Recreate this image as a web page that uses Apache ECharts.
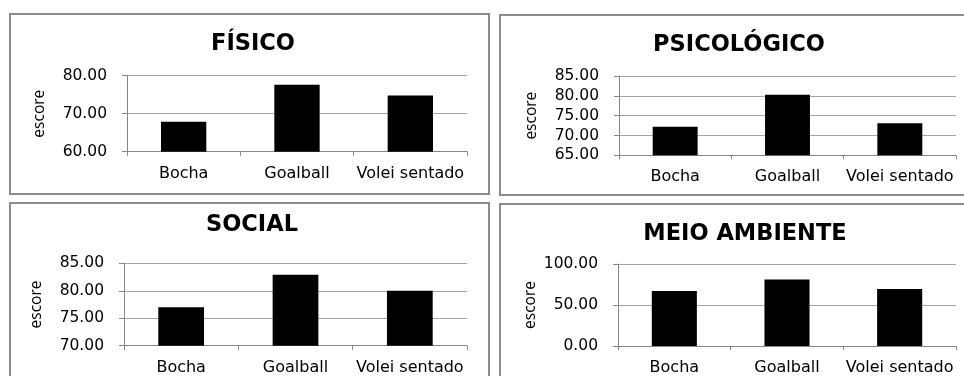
<!DOCTYPE html>
<html>
<head>
<meta charset="utf-8">
<script src="https://cdn.jsdelivr.net/npm/echarts@6/dist/echarts.min.js"></script>
<style>
html,body{margin:0;padding:0;background:#fff;}
#c{width:964px;height:376px;}
</style>
</head>
<body>
<div id="c"></div>
<script>
const categories = ['Bocha', 'Goalball', 'Volei sentado'];
const titles = ['FÍSICO', 'PSICOLÓGICO', 'SOCIAL', 'MEIO AMBIENTE'];
const fisico = [67.9, 77.6, 74.8];
const psicologico = [72.2, 80.3, 73.1];
const social = [77.0, 82.9, 80.0];
const meioAmbiente = [67.0, 81.2, 69.6];
const fisicoTicks = [60, 70, 80];
const psicologicoTicks = [65, 70, 75, 80, 85];
const socialTicks = [70, 75, 80, 85];
const meioAmbienteTicks = [0, 50, 100];
const yName = 'escore';

const seriesData = [fisico, psicologico, social, meioAmbiente];
const tickSets = [fisicoTicks, psicologicoTicks, socialTicks, meioAmbienteTicks];

// layout (pixels)
const grids = [
  {left: 127, top: 75.7, width: 340, height: 76},
  {left: 619, top: 76, width: 337, height: 79.3},
  {left: 124, top: 263.3, width: 343, height: 82.4},
  {left: 618, top: 264, width: 338, height: 88.7}
];
const titlePos = [
  {x: 248, y: 39},
  {x: 734, y: 40},
  {x: 247, y: 220},
  {x: 740, y: 229}
];
const panels = [
  {x: 10, y: 14, w: 479, h: 180},
  {x: 500, y: 15, w: 480, h: 180},
  {x: 10, y: 203, w: 479, h: 220},
  {x: 500, y: 204, w: 480, h: 220}
];

const labelFont = 'DejaVu Sans';
const option = {
  animation: false,
  backgroundColor: '#fff',
  title: titles.map((t, i) => ({
    text: t,
    left: titlePos[i].x,
    top: titlePos[i].y,
    textAlign: 'center',
    textVerticalAlign: 'middle',
    textStyle: {fontFamily: labelFont, fontWeight: 'bold', fontSize: 22.5, color: '#000'}
  })),
  grid: grids.map(g => Object.assign({containLabel: false}, g)),
  xAxis: grids.map((g, i) => ({
    type: 'category',
    gridIndex: i,
    data: categories,
    axisLine: {lineStyle: {color: '#868686', width: 1}},
    axisTick: {show: true, length: 4, lineStyle: {color: '#868686'}},
    axisLabel: {fontFamily: labelFont, fontSize: 16, color: '#000', margin: 14, interval: 0, hideOverlap: false}
  })),
  yAxis: grids.map((g, i) => {
    const t = tickSets[i];
    return {
      type: 'value',
      gridIndex: i,
      min: t[0],
      max: t[t.length - 1],
      interval: t[1] - t[0],
      name: yName,
      nameLocation: 'middle',
      nameRotate: 90,
      nameGap: 79,
      nameTextStyle: {fontFamily: 'Open Sans', fontSize: 15.5, color: '#000'},
      axisLine: {show: true, lineStyle: {color: '#868686', width: 1}},
      axisTick: {show: true, length: 5, lineStyle: {color: '#868686'}},
      splitLine: {show: true, lineStyle: {color: '#a6a6a6', width: 1}},
      axisLabel: {
        fontFamily: labelFont, fontSize: 15.5, color: '#000', margin: 20,
        formatter: v => v.toFixed(2)
      }
    };
  }),
  series: seriesData.map((d, i) => ({
    type: 'bar',
    xAxisIndex: i,
    yAxisIndex: i,
    data: d,
    barWidth: '40%',
    itemStyle: {color: '#000'}
  })),
  graphic: panels.map(p => ({
    type: 'rect',
    shape: {x: p.x, y: p.y, width: p.w, height: p.h},
    style: {fill: 'rgba(0,0,0,0)', stroke: '#8c8c8c', lineWidth: 2},
    silent: true,
    z: 100
  }))
};

const chart = echarts.init(document.getElementById('c'), null, {renderer: 'canvas'});
chart.setOption(option);
</script>
</body>
</html>
